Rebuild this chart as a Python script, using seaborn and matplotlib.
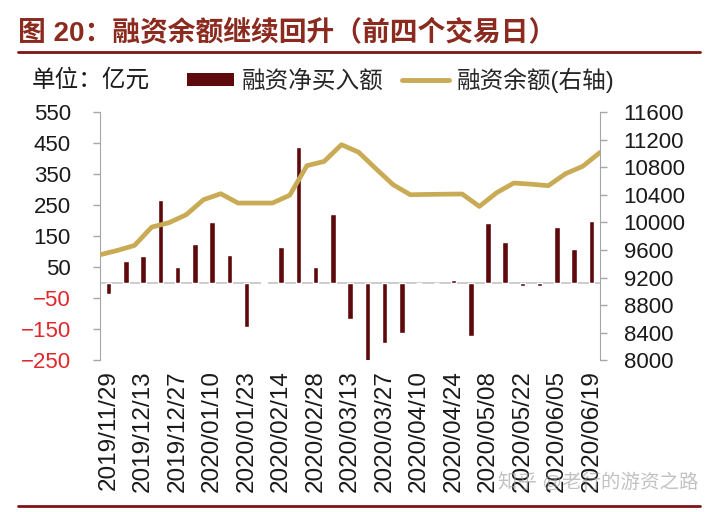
import numpy as np
import matplotlib
matplotlib.use('Agg')
import matplotlib.pyplot as plt
from matplotlib.lines import Line2D
from matplotlib.patches import Patch
import seaborn as sns

# weekly dates (every other one is labelled)
dates = ['2019/11/29', '2019/12/06', '2019/12/13', '2019/12/20', '2019/12/27',
         '2020/01/03', '2020/01/10', '2020/01/17', '2020/01/23', '2020/02/07',
         '2020/02/14', '2020/02/21', '2020/02/28', '2020/03/06', '2020/03/13',
         '2020/03/20', '2020/03/27', '2020/04/03', '2020/04/10', '2020/04/17',
         '2020/04/24', '2020/04/30', '2020/05/08', '2020/05/15', '2020/05/22',
         '2020/05/29', '2020/06/05', '2020/06/12', '2020/06/19']

# 融资净买入额 (亿元)
net_buy = [-35, 69, 86, 268, 50, 124, 197, 90, -143, 2, 116, 438, 50, 222, -116,
           -259, -194, -162, 1, 0, 8, -172, 191, 132, -11, -11, 179, 108, 198]

# 融资余额 (亿元, right axis) - drawn edge to edge over the categories
balance = [9532, 9594, 9667, 9933, 9996, 10112, 10329, 10416, 10281, 10281,
           10281, 10394, 10822, 10884, 11126, 11017, 10778, 10546, 10401, 10406,
           10409, 10412, 10232, 10430, 10571, 10554, 10532, 10706, 10814, 11014]

left_ticks = [550, 450, 350, 250, 150, 50, -50, -150, -250]
right_ticks = [11600, 11200, 10800, 10400, 10000, 9600, 9200, 8800, 8400, 8000]

bar_color = '#5E0A0C'
line_color = '#C9AA55'
axis_gray = '#A6A6A6'
title_red = '#8B2A1E'
rule_red = '#7E1416'

sns.set_style('white')
plt.rcParams['font.family'] = ['Liberation Sans', 'Noto Sans CJK SC', 'DejaVu Sans']

fig = plt.figure(figsize=(7.13, 5.12), dpi=100)
ax = fig.add_axes([0.1403, 0.2959, 0.7013, 0.4854])

sns.barplot(x=dates, y=net_buy, color=bar_color, width=0.32,
            saturation=1, ax=ax, zorder=2)
ax.axhline(0, color='#C8C8C8', lw=1.3, zorder=1)
ax.set_ylim(-250, 550)
ax.set_yticks(left_ticks)
ax.set_xticks(range(0, len(dates), 2))
ax.set_xticklabels(dates[::2], rotation=90)
ax.tick_params(axis='x', length=0, pad=7, labelsize=17.5, colors='#1a1a1a')
ax.tick_params(axis='y', direction='out', length=5, width=1, color=axis_gray,
               pad=16, labelsize=16, labelcolor='#1a1a1a')
for lab, v in zip(ax.get_yticklabels(), left_ticks):
    if v < 0:
        lab.set_color('#E0282C')
ax.set_xlabel('')
ax.set_ylabel('')
for s in ['top', 'bottom', 'right']:
    ax.spines[s].set_visible(False)
ax.spines['left'].set_color(axis_gray)

ax2 = ax.twinx()
xpos = np.arange(len(balance)) - 0.5
sns.lineplot(x=xpos, y=balance, color=line_color, lw=3.4, ax=ax2)
ax2.set_ylim(8000, 11600)
ax2.set_yticks(right_ticks)
ax2.tick_params(axis='y', direction='out', length=5, width=1, color=axis_gray,
                pad=12, labelsize=16, labelcolor='#1a1a1a')
for s in ['top', 'bottom', 'left']:
    ax2.spines[s].set_visible(False)
ax2.spines['right'].set_color(axis_gray)
ax2.set_ylabel('')
ax.set_xlim(-0.5, len(dates) - 0.5)
ax2.set_xlim(-0.5, len(dates) - 0.5)

# title and rules
fig.text(18 / 713, 1 - 33 / 512, '图 20：融资余额继续回升（前四个交易日）',
         fontsize=20, fontweight='bold', color=title_red, va='center', ha='left')
fig.add_artist(Line2D([18 / 713, 700 / 713], [1 - 52 / 512] * 2,
                      transform=fig.transFigure, color=rule_red, lw=2))
fig.add_artist(Line2D([18 / 713, 700 / 713], [1 - 506 / 512] * 2,
                      transform=fig.transFigure, color=rule_red, lw=2))

fig.text(32 / 713, 1 - 80 / 512, '单位：亿元', fontsize=17, va='center',
         ha='left', color='#1a1a1a')

handles = [Patch(facecolor=bar_color, edgecolor='none'),
           Line2D([0], [0], color=line_color, lw=3.5)]
fig.legend(handles, ['融资净买入额', '融资余额(右轴)'], loc='center left',
           bbox_to_anchor=(187 / 713, 1 - 80 / 512), ncol=2, frameon=False,
           fontsize=17, handlelength=2.0, handleheight=0.5, handletextpad=0.3,
           columnspacing=0.8, borderpad=0, borderaxespad=0)

# watermark
fig.text(498 / 713, 1 - 482 / 512, '知乎 @老行的游资之路', fontsize=14,
         color='#9A9A9A', alpha=0.6, va='center', ha='left')

fig.savefig('out.png', dpi=100)
